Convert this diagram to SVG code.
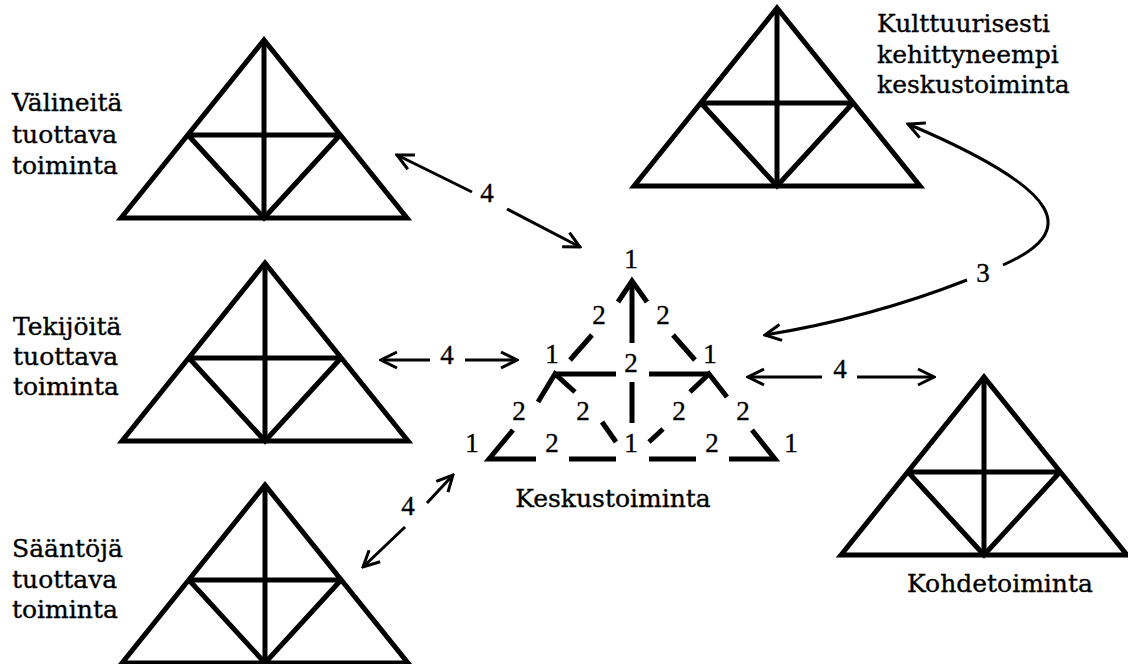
<svg xmlns="http://www.w3.org/2000/svg" xmlns:xlink="http://www.w3.org/1999/xlink" width="1128" height="664" viewBox="0 0 1128 664">
<style>
.tri{fill:none;stroke:#000;stroke-width:5;stroke-linejoin:miter}
.lbl{font-family:"DejaVu Serif","Liberation Serif",serif;font-size:25px;fill:#000;stroke:#000;stroke-width:0.35}
.num{font-family:"Liberation Serif","DejaVu Serif",serif;font-size:27px;fill:#000;stroke:#000;stroke-width:0.4;text-anchor:middle}
.arr{fill:none;stroke:#000;stroke-width:3;marker-end:url(#ah)}
.dash{fill:none;stroke:#000;stroke-width:5;stroke-linecap:butt;stroke-linejoin:miter}
</style>
<defs>
<marker id="ah" viewBox="0 0 20 20" refX="18" refY="10" markerWidth="20" markerHeight="20" markerUnits="userSpaceOnUse" orient="auto">
<path d="M2,2 L18,10 L2,18" fill="none" stroke="#000" stroke-width="3"/>
</marker>
<g id="tri" class="tri">
<path d="M-143,178 L0,0 L143,178 Z"/>
<path d="M0,0 V178"/>
<path d="M-76,95 H76"/>
<path d="M-76,95 L0,178 L76,95"/>
</g>
</defs>
<rect width="1128" height="664" fill="#fff"/>

<g id="node-valineita">
<use xlink:href="#tri" x="264" y="40"/>
<text class="lbl" x="12" y="111">Välineitä</text>
<text class="lbl" x="12" y="143">tuottava</text>
<text class="lbl" x="12" y="174">toiminta</text>
</g>

<g id="node-tekijoita">
<use xlink:href="#tri" x="265" y="263"/>
<text class="lbl" x="13" y="335">Tekijöitä</text>
<text class="lbl" x="13" y="365">tuottava</text>
<text class="lbl" x="13" y="395">toiminta</text>
</g>

<g id="node-saantoja">
<use xlink:href="#tri" x="265" y="485"/>
<text class="lbl" x="12" y="557">Sääntöjä</text>
<text class="lbl" x="12" y="588">tuottava</text>
<text class="lbl" x="12" y="618">toiminta</text>
</g>

<g id="node-kulttuurisesti">
<use xlink:href="#tri" x="777" y="8"/>
<text class="lbl" x="877" y="32">Kulttuurisesti</text>
<text class="lbl" x="877" y="63">kehittyneempi</text>
<text class="lbl" x="877" y="93">keskustoiminta</text>
</g>

<g id="node-kohde">
<use xlink:href="#tri" x="984" y="377"/>
<text class="lbl" x="1000" y="592" text-anchor="middle">Kohdetoiminta</text>
</g>

<g id="node-keskus">
<g class="dash">
<polyline points="618,302 632,281 647,302"/>
<line x1="632" y1="281" x2="632" y2="343"/>
<line x1="632" y1="382" x2="632" y2="423"/>
<line x1="592" y1="335" x2="570" y2="360"/>
<line x1="673" y1="335" x2="695" y2="360"/>
<polyline points="538,402 555,374 575,392"/>
<line x1="555" y1="374" x2="616" y2="374"/>
<polyline points="690,392 709,374 727,397"/>
<line x1="649" y1="374" x2="709" y2="374"/>
<polyline points="513,430 489,459 536,459"/>
<polyline points="752,430 775,459 729,459"/>
<line x1="569" y1="459" x2="616" y2="459"/>
<line x1="649" y1="459" x2="696" y2="459"/>
<line x1="602" y1="422" x2="616" y2="442"/>
<line x1="663" y1="429" x2="649" y2="442"/>
</g>
<text class="num" x="631" y="268">1</text>
<text class="num" x="599" y="324">2</text>
<text class="num" x="663" y="324">2</text>
<text class="num" x="552" y="363">1</text>
<text class="num" x="631" y="372">2</text>
<text class="num" x="710" y="363">1</text>
<text class="num" x="519" y="420">2</text>
<text class="num" x="583" y="420">2</text>
<text class="num" x="679" y="420">2</text>
<text class="num" x="743" y="420">2</text>
<text class="num" x="472" y="452">1</text>
<text class="num" x="552" y="452">2</text>
<text class="num" x="631" y="452">1</text>
<text class="num" x="712" y="452">2</text>
<text class="num" x="791" y="452">1</text>
<text class="lbl" x="613" y="507" text-anchor="middle">Keskustoiminta</text>
</g>

<g id="connectors">
<line class="arr" x1="472" y1="192" x2="397" y2="155"/>
<line class="arr" x1="507" y1="209" x2="580" y2="247"/>
<text class="num" x="487" y="202">4</text>
<line class="arr" x1="430" y1="360" x2="381" y2="360"/>
<line class="arr" x1="465" y1="360" x2="517" y2="360"/>
<text class="num" x="447" y="364">4</text>
<line class="arr" x1="822" y1="377" x2="748" y2="377"/>
<line class="arr" x1="857" y1="377" x2="934" y2="377"/>
<text class="num" x="840" y="378">4</text>
<line class="arr" x1="427" y1="503" x2="453" y2="475"/>
<line class="arr" x1="405" y1="527" x2="363" y2="567"/>
<text class="num" x="408" y="515">4</text>
<path class="arr" d="M967,280 Q870,318 765,335"/>
<path class="arr" d="M1003,265 C1078,232 1068,192 908,124"/>
<text class="num" x="983" y="282">3</text>
</g>
</svg>
